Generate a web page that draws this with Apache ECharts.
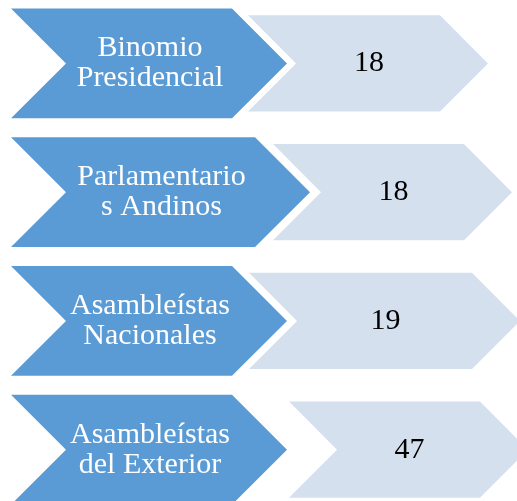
<!DOCTYPE html>
<html>
<head>
<meta charset="utf-8">
<script src="https://cdn.jsdelivr.net/npm/echarts@6/dist/echarts.min.js"></script>
<style>
  html, body { margin: 0; padding: 0; background: #fff; }
  #chart { width: 517px; height: 501px; }
</style>
</head>
<body>
<div id="chart"></div>
<script>
  // data
  const categories = ['Binomio\nPresidencial', 'Parlamentario\ns Andinos', 'Asambleístas\nNacionales', 'Asambleístas\ndel Exterior']
  const values = [18, 18, 19, 47]

  // chevron extents on the x axis (1 unit = 1px), start = left edge, end = tip
  const labelArrowStart = [11, 11, 11, 11]
  const labelArrowEnd = [287, 310, 287, 287]
  const valueArrowStart = [248, 273, 249, 289]
  const valueArrowEnd = [488, 512, 520, 528]

  const darkBlue = '#5B9BD5'
  const lightBlue = '#D5E0EF'
  const fontFamily = '"Liberation Serif", serif'

  const makeChevron = (starts, ends, ratio, fill, textColor, getText) => (params, api) => {
    const i = api.value(0)
    const h = api.size([0, 1])[1] * ratio
    const d = h / 2
    const p0 = api.coord([starts[i], i])
    const p1 = api.coord([ends[i], i])
    const cy = p0[1]
    const x0 = p0[0]
    const x1 = p1[0]
    const points = [
      [x0, cy - d], [x1 - d, cy - d], [x1, cy],
      [x1 - d, cy + d], [x0, cy + d], [x0 + d, cy]
    ]
    return {
      type: 'group',
      children: [
        { type: 'polygon', shape: { points }, style: { fill } },
        {
          type: 'text',
          style: {
            text: getText(i),
            x: (x0 + x1) / 2 + 1,
            y: cy,
            align: 'center',
            verticalAlign: 'middle',
            fill: textColor,
            fontFamily,
            fontSize: 30,
            lineHeight: 30
          }
        }
      ]
    }
  }

  const rows = categories.map((c, i) => [i, values[i]])

  const chart = echarts.init(document.getElementById('chart'))
  chart.setOption({
    animation: false,
    grid: { left: 0, top: -1, width: 517, height: 515, outerBoundsMode: 'none' },
    xAxis: { type: 'value', min: 0, max: 517, show: false },
    yAxis: { type: 'category', data: categories, inverse: true, show: false },
    series: [
      {
        type: 'custom',
        name: 'values',
        data: rows,
        encode: { y: 0 },
        renderItem: makeChevron(valueArrowStart, valueArrowEnd, 0.746, lightBlue, '#000', i => String(values[i]))
      },
      {
        type: 'custom',
        name: 'labels',
        data: rows,
        encode: { y: 0 },
        renderItem: makeChevron(labelArrowStart, labelArrowEnd, 0.854, darkBlue, '#fff', i => categories[i])
      }
    ]
  })
</script>
</body>
</html>
